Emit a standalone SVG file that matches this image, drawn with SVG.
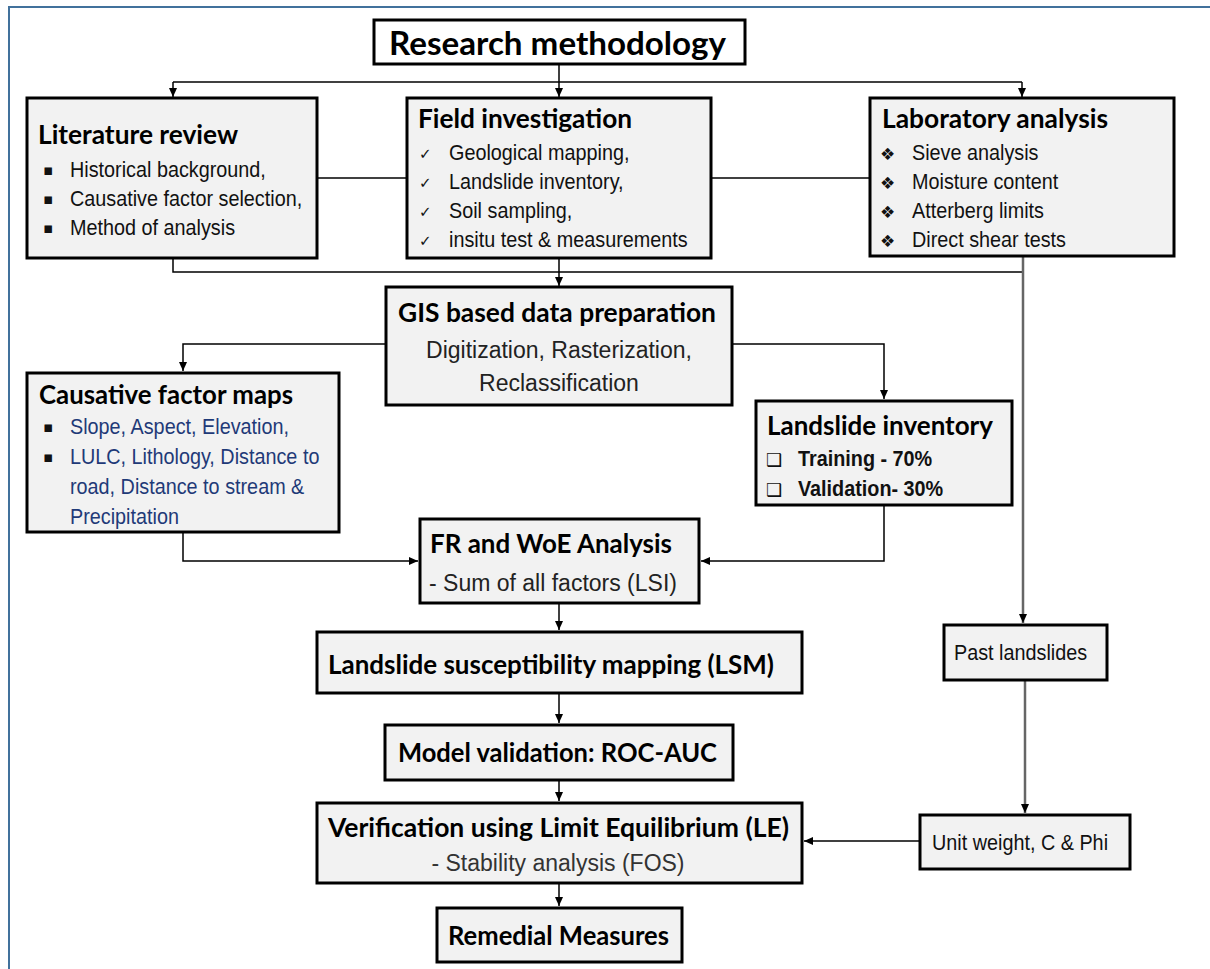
<svg xmlns="http://www.w3.org/2000/svg" width="1210" height="969" viewBox="0 0 1210 969">
<defs>
<marker id="ah" markerWidth="10" markerHeight="10" refX="9" refY="5" orient="auto" markerUnits="userSpaceOnUse">
<path d="M0,1 L9,5 L0,9 Z" fill="#000"/>
</marker>
<style>
.box{fill:#f2f2f2;stroke:#000;stroke-width:3}
.h{font-family:Lato,"Liberation Sans",sans-serif;font-weight:bold;font-size:26px;fill:#000}
.t{font-family:"Liberation Sans",Arial,sans-serif;font-size:22.5px;fill:#111}
.tw{font-family:"Liberation Sans",Arial,sans-serif;font-size:23px;fill:#222}
.tb{font-family:"Liberation Sans",Arial,sans-serif;font-size:22.5px;font-weight:bold;fill:#111}
.blue{fill:#1f3a78}
.sym{font-family:"DejaVu Sans",sans-serif;font-size:15px;fill:#111}
.c{fill:none;stroke:#000;stroke-width:1.5}
.g{fill:none;stroke:#666;stroke-width:2.5}
.mid{text-anchor:middle}
</style>
</defs>
<rect width="1210" height="969" fill="#fff"/>
<path d="M9,969 V7 H1210" fill="none" stroke="#41719c" stroke-width="2"/>

<g id="connectors">
<path class="c" d="M559,64 V82"/>
<path class="c" d="M173,82 H1022"/>
<path class="c" d="M173,82 V97" marker-end="url(#ah)"/>
<path class="c" d="M559,82 V97" marker-end="url(#ah)"/>
<path class="c" d="M1022,82 V97" marker-end="url(#ah)"/>
<path class="c" d="M317,178 H407"/>
<path class="c" d="M711,178 H870"/>
<path class="c" d="M173,258 V272 H1022"/>
<path class="c" d="M559,258 V272"/>
<path class="c" d="M559,272 V286" marker-end="url(#ah)"/>
<path class="g" d="M1023,256 V623" marker-end="url(#ah)"/>
<path class="c" d="M386,344 H183 V371" marker-end="url(#ah)"/>
<path class="c" d="M732,344 H884 V399" marker-end="url(#ah)"/>
<path class="c" d="M183,532 V561 H418" marker-end="url(#ah)"/>
<path class="c" d="M884,505 V561 H701" marker-end="url(#ah)"/>
<path class="c" d="M559,603 V630" marker-end="url(#ah)"/>
<path class="c" d="M559,693 V723" marker-end="url(#ah)"/>
<path class="c" d="M559,780 V801" marker-end="url(#ah)"/>
<path class="c" d="M559,883 V906" marker-end="url(#ah)"/>
<path class="g" d="M1025,680 V813" marker-end="url(#ah)"/>
<path class="c" d="M920,841 H804" marker-end="url(#ah)"/>
</g>

<g id="research">
<rect x="374" y="20" width="371" height="44" fill="#fff" stroke="#000" stroke-width="3"/>
<text x="389" y="55" class="h" style="font-size:33px" textLength="337" lengthAdjust="spacingAndGlyphs">Research methodology</text>
</g>

<g id="literature">
<rect class="box" x="27" y="98" width="290" height="160"/>
<text x="38" y="144" class="h" textLength="200" lengthAdjust="spacingAndGlyphs">Literature review</text>
<text x="43" y="175" class="sym">▪</text>
<text x="43" y="204" class="sym">▪</text>
<text x="43" y="233" class="sym">▪</text>
<g transform="matrix(0.88 0 0 1 8.4 0)">
<text x="70" y="177" class="t">Historical background,</text>
<text x="70" y="206" class="t">Causative factor selection,</text>
<text x="70" y="235" class="t">Method of analysis</text>
</g>
</g>

<g id="field">
<rect class="box" x="407" y="98" width="304" height="160"/>
<text x="418" y="128" class="h" textLength="214" lengthAdjust="spacingAndGlyphs">Field investigation</text>
<text x="419" y="159" class="sym">✓</text>
<text x="419" y="188" class="sym">✓</text>
<text x="419" y="217" class="sym">✓</text>
<text x="419" y="246" class="sym">✓</text>
<g transform="matrix(0.88 0 0 1 53.88 0)">
<text x="449" y="160" class="t">Geological mapping,</text>
<text x="449" y="189" class="t">Landslide inventory,</text>
<text x="449" y="218" class="t">Soil sampling,</text>
<text x="449" y="247" class="t">insitu test &amp; measurements</text>
</g>
</g>

<g id="laboratory">
<rect class="box" x="870" y="98" width="304" height="158"/>
<text x="882" y="128" class="h" textLength="226" lengthAdjust="spacingAndGlyphs">Laboratory analysis</text>
<text x="880" y="160" class="sym" style="font-size:17px">❖</text>
<text x="880" y="189" class="sym" style="font-size:17px">❖</text>
<text x="880" y="218" class="sym" style="font-size:17px">❖</text>
<text x="880" y="247" class="sym" style="font-size:17px">❖</text>
<g transform="matrix(0.88 0 0 1 109.44 0)">
<text x="912" y="160" class="t">Sieve analysis</text>
<text x="912" y="189" class="t">Moisture content</text>
<text x="912" y="218" class="t">Atterberg limits</text>
<text x="912" y="247" class="t">Direct shear tests</text>
</g>
</g>

<g id="gis">
<rect class="box" x="386" y="287" width="346" height="118"/>
<text x="398" y="322" class="h" textLength="318" lengthAdjust="spacingAndGlyphs">GIS based data preparation</text>
<text x="559" y="358" class="tw mid">Digitization, Rasterization,</text>
<text x="559" y="391" class="tw mid">Reclassification</text>
</g>

<g id="causative">
<rect class="box" x="27" y="373" width="312" height="159"/>
<text x="39" y="404" class="h" textLength="254" lengthAdjust="spacingAndGlyphs">Causative factor maps</text>
<text x="43" y="432" class="sym blue">▪</text>
<text x="43" y="462" class="sym blue">▪</text>
<g transform="matrix(0.88 0 0 1 8.4 0)">
<text x="70" y="434" class="t blue">Slope, Aspect, Elevation,</text>
<text x="70" y="464" class="t blue">LULC, Lithology, Distance to</text>
<text x="70" y="494" class="t blue">road, Distance to stream &amp;</text>
<text x="70" y="524" class="t blue">Precipitation</text>
</g>
</g>

<g id="inventory">
<rect class="box" x="756" y="401" width="256" height="104"/>
<text x="767" y="435" class="h" textLength="226" lengthAdjust="spacingAndGlyphs">Landslide inventory</text>
<text x="766" y="466" class="sym" style="font-size:18px">❑</text>
<text x="766" y="496" class="sym" style="font-size:18px">❑</text>
<g transform="matrix(0.88 0 0 1 95.76 0)">
<text x="798" y="466" class="tb">Training -  70%</text>
<text x="798" y="496" class="tb">Validation- 30%</text>
</g>
</g>

<g id="frwoe">
<rect class="box" x="420" y="519" width="279" height="84"/>
<text x="430" y="553" class="h" textLength="242" lengthAdjust="spacingAndGlyphs">FR and WoE Analysis</text>
<text x="429" y="591" class="tw">- Sum of all factors (LSI)</text>
</g>

<g id="lsm">
<rect class="box" x="317" y="632" width="485" height="61"/>
<text x="328" y="674" class="h" textLength="446" lengthAdjust="spacingAndGlyphs">Landslide susceptibility mapping (LSM)</text>
</g>

<g id="model">
<rect class="box" x="385" y="725" width="348" height="55"/>
<text x="398" y="762" class="h" textLength="319" lengthAdjust="spacingAndGlyphs">Model validation: ROC-AUC</text>
</g>

<g id="verification">
<rect class="box" x="317" y="803" width="485" height="80"/>
<text x="328" y="837" class="h" textLength="461" lengthAdjust="spacingAndGlyphs">Verification using Limit Equilibrium (LE)</text>
<text x="558" y="871" class="tw mid" style="fill:#333">- Stability analysis (FOS)</text>
</g>

<g id="remedial">
<rect class="box" x="437" y="908" width="245" height="54"/>
<text x="448" y="945" class="h" textLength="221" lengthAdjust="spacingAndGlyphs">Remedial Measures</text>
</g>

<g id="past">
<rect class="box" x="944" y="625" width="163" height="55"/>
<g transform="matrix(0.88 0 0 1 114.48 0)">
<text x="954" y="660" class="t">Past landslides</text>
</g>
</g>

<g id="unit">
<rect class="box" x="920" y="815" width="210" height="54"/>
<g transform="matrix(0.88 0 0 1 111.84 0)">
<text x="932" y="850" class="t">Unit weight, C &amp; Phi</text>
</g>
</g>
</svg>
